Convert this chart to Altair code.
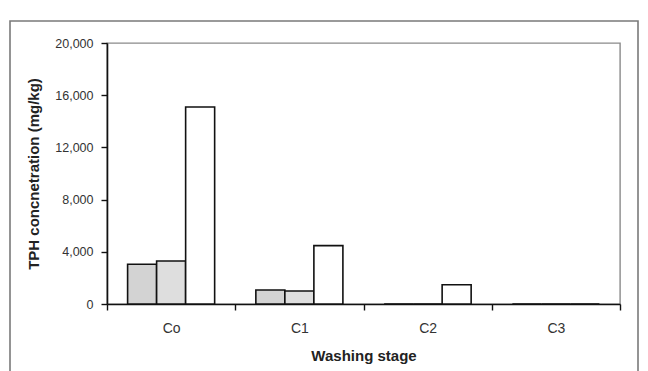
import altair as alt
import pandas as pd

stages = ["Co", "C1", "C2", "C3"]
series = ["Series 1", "Series 2", "Series 3"]
s1 = [3050, 1070, 0, 0]
s2 = [3300, 1000, 0, 0]
s3 = [15100, 4470, 1480, 0]
y_ticks = [0, 4000, 8000, 12000, 16000, 20000]
colors = ["#d3d3d3", "#dedede", "#ffffff"]

rows = []
for i, st in enumerate(stages):
    for name, vals in zip(series, [s1, s2, s3]):
        rows.append({"stage": st, "series": name, "value": vals[i]})
df = pd.DataFrame(rows)

FONT = "Liberation Sans"

bars = alt.Chart(df).mark_bar(stroke="#111111", strokeWidth=1.6).encode(
    x=alt.X("stage:N", sort=stages, title="Washing stage",
            scale=alt.Scale(paddingInner=0, paddingOuter=0),
            axis=alt.Axis(labelAngle=0, tickBand="extent", tickSize=6,
                          labelPadding=11, titlePadding=13,
                          labelFontSize=14, titleFontSize=15,
                          titleFontWeight="bold", domainColor="#111111",
                          domainWidth=1.6, tickColor="#111111", tickWidth=1.4,
                          labelColor="#333333", titleColor="#222222",
                          labelFont=FONT, titleFont=FONT)),
    xOffset=alt.XOffset("series:N", sort=series,
                        scale=alt.Scale(paddingOuter=0.71, paddingInner=0)),
    y=alt.Y("value:Q", title="TPH concnetration (mg/kg)",
            scale=alt.Scale(domain=[0, 20000], nice=False),
            axis=alt.Axis(values=y_ticks, format=",.0f", tickSize=6, labelPadding=8,
                          titlePadding=13, grid=False, labelFontSize=12.5,
                          titleFontSize=15, titleFontWeight="bold",
                          domainColor="#111111", domainWidth=1.6,
                          tickColor="#111111", tickWidth=1.4,
                          labelColor="#333333", titleColor="#222222",
                          labelFont=FONT, titleFont=FONT)),
    fill=alt.Fill("series:N", sort=series,
                  scale=alt.Scale(domain=series, range=colors), legend=None),
)

frame = alt.Chart(pd.DataFrame({"a": [0]})).mark_rect(
    fill=None, stroke="#7a7a7a", strokeWidth=1.6
).encode(
    x=alt.value(-97), x2=alt.value(531), y=alt.value(-22), y2=alt.value(340)
)

chart = alt.layer(frame, bars).properties(
    width=513, height=261,
    autosize=alt.AutoSizeParams(type="none"),
    padding={"left": 107, "top": 43, "right": 28, "bottom": 67},
    background="white",
).configure_view(stroke="#8a8a8a", strokeWidth=1.4)

chart.save("out.html", embed_options={"renderer": "svg", "actions": False})
